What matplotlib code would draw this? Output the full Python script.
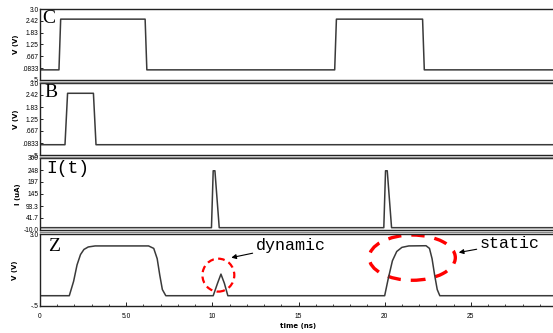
import matplotlib
matplotlib.use("Agg")
import matplotlib.pyplot as plt
from matplotlib.patches import Ellipse
from matplotlib.ticker import MultipleLocator
from matplotlib.lines import Line2D

# waveform breakpoints (time in ns)
c_t = [0, 1.1, 1.2, 6.1, 6.2, 17.1, 17.2, 22.2, 22.3, 30]
c_v = [0, 0, 2.5, 2.5, 0, 0, 2.5, 2.5, 0, 0]

b_t = [0, 1.45, 1.6, 3.1, 3.25, 30]
b_v = [0, 0, 2.5, 2.5, 0, 0]

i_t = [0, 9.95, 10.05, 10.15, 10.4, 19.95, 20.05, 20.15, 20.4, 30]
i_v = [0, 0, 245, 245, 0, 0, 245, 245, 0, 0]

z_t = [0, 1.7, 1.95, 2.15, 2.35, 2.55, 2.8, 3.2, 6.3, 6.6, 6.8, 6.95, 7.1, 7.3,
       10.05, 10.3, 10.5, 10.7, 10.9,
       20.0, 20.2, 20.45, 20.7, 21.0, 21.4, 22.4, 22.6, 22.75, 22.9, 23.05, 23.2, 30]
z_v = [0, 0, 0.7, 1.5, 2.0, 2.25, 2.37, 2.42, 2.42, 2.3, 1.8, 1.0, 0.3, 0,
       0, 0.6, 1.05, 0.6, 0,
       0, 0.8, 1.7, 2.15, 2.35, 2.42, 2.43, 2.3, 1.8, 1.0, 0.3, 0, 0]

v_ticks = [0.0833, 0.667, 1.25, 1.83, 2.42, 3.0]
v_ticklabels = [".0833", ".667", "1.25", "1.83", "2.42", "3.0"]
i_ticks = [-10.0, 41.7, 93.3, 145, 197, 248, 300]
i_ticklabels = ["-10.0", "41.7", "93.3", "145", "197", "248", "300"]

W, H = 553, 333
fig = plt.figure(figsize=(W / 100, H / 100), dpi=100)

left = 40 / W
width = 517 / W
panels = [(9, 80), (83, 155), (158, 230), (234, 306)]


def make_ax(top, bot):
    return fig.add_axes([left, 1 - bot / H, width, (bot - top) / H])


axes = [make_ax(t, b) for t, b in panels]
trace = dict(color="#3a3a3a", lw=1.1)
tick_font = dict(fontsize=4.8, family="Liberation Sans")

for ax in axes:
    ax.set_xlim(0, 30)
    for s in ax.spines.values():
        s.set_linewidth(1.0)
        s.set_color("#222222")
    ax.tick_params(axis="y", direction="in", length=2, width=0.6, pad=1)
    ax.tick_params(axis="x", which="both", direction="in")

# C
ax = axes[0]
ax.plot(c_t, c_v, **trace)
ax.set_ylim(-0.5, 3.0)
# B
ax = axes[1]
ax.plot(b_t, b_v, **trace)
ax.set_ylim(-0.5, 3.0)
for ax in axes[:2]:
    ax.set_yticks([-0.5] + v_ticks)
    ax.set_yticklabels(["-.5"] + v_ticklabels, **tick_font)
    ax.set_ylabel("V (V)", fontsize=5, fontweight="bold", labelpad=2)

# I(t)
ax = axes[2]
ax.plot(i_t, i_v, **trace)
ax.set_ylim(-10, 300)
ax.set_yticks(i_ticks)
ax.set_yticklabels(i_ticklabels, **tick_font)
ax.set_ylabel("I (uA)", fontsize=5, fontweight="bold", labelpad=2)

# Z
ax = axes[3]
ax.plot(z_t, z_v, **trace)
ax.set_ylim(-0.5, 3.0)
ax.set_yticks([-0.5, 3.0])
ax.set_yticklabels(["-.5", "3.0"], **tick_font)
ax.set_ylabel("V (V)", fontsize=5, fontweight="bold", labelpad=8)

for ax in axes[:3]:
    ax.set_xticks([])

ax = axes[3]
ax.set_xticks([0, 5, 10, 15, 20, 25])
ax.xaxis.set_minor_locator(MultipleLocator(1))
ax.set_xticklabels(["0", "5.0", "10", "15", "20", "25"], **tick_font)
ax.tick_params(axis="x", which="major", length=3, width=0.6, pad=5)
ax.tick_params(axis="x", which="minor", length=1.5, width=0.5)
ax.set_xlabel("time (ns)", fontsize=5, fontweight="bold", labelpad=2)

# extra gray line under each upper panel
for t, b in panels[:3]:
    y = 1 - (b + 2) / H
    fig.add_artist(Line2D([left, 1], [y, y], color="#888888", lw=1.0))

# panel labels
serif = "Liberation Serif"
axes[0].text(0.12, 2.95, "C", fontsize=14, family=serif, va="top")
axes[1].text(0.25, 2.95, "B", fontsize=14, family=serif, va="top")
axes[2].text(0.35, 292, "I(t)", fontsize=13, family="Liberation Mono", va="top")
axes[3].text(0.45, 2.8, "Z", fontsize=14, family=serif, va="top")

# red dashed ellipses
ax = axes[3]
ax.add_patch(Ellipse((10.35, 1.0), 1.85, 1.6, fill=False, ec="red", lw=1.6,
                     ls=(0, (3, 2))))
ax.add_patch(Ellipse((21.6, 1.85), 5.0, 2.2, fill=False, ec="red", lw=2.4,
                     ls=(0, (4, 3))))

mono = "Liberation Mono"
ax.annotate("dynamic", xy=(11.1, 1.85), xytext=(12.5, 2.45),
            fontsize=12, family=mono, va="center", ha="left",
            arrowprops=dict(arrowstyle="-|>", color="black", lw=0.8,
                            mutation_scale=7, shrinkA=0, shrinkB=0))
ax.annotate("static", xy=(24.3, 2.1), xytext=(25.5, 2.55),
            fontsize=12, family=mono, va="center", ha="left",
            arrowprops=dict(arrowstyle="-|>", color="black", lw=0.8,
                            mutation_scale=7, shrinkA=0, shrinkB=0))

fig.savefig("out.png", dpi=100)
